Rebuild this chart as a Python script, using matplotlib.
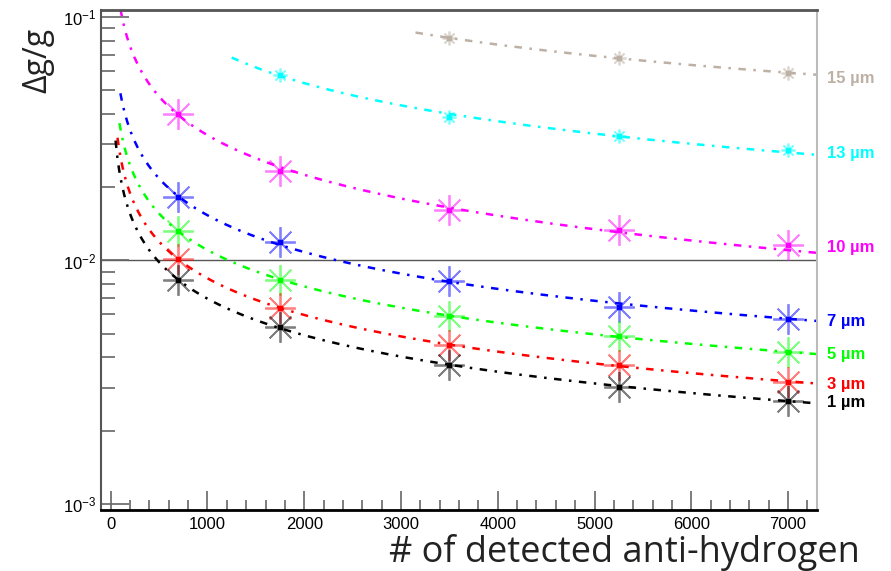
import matplotlib.pyplot as plt
import numpy as np

plt.rcParams["font.family"] = ["Liberation Sans", "DejaVu Sans"]
plt.rcParams["mathtext.fontset"] = "custom"
plt.rcParams["mathtext.rm"] = "Liberation Sans"
plt.rcParams["mathtext.it"] = "Liberation Sans"
plt.rcParams["mathtext.default"] = "regular"

# data
n_det = [700, 1750, 3500, 5250, 7000]
labels = ["15 \u00b5m", "13 \u00b5m", "10 \u00b5m", "7 \u00b5m", "5 \u00b5m", "3 \u00b5m", "1 \u00b5m"]
colors = ["#bdb0a4", "#00ffff", "#ff00ff", "#0000ff", "#00ff00", "#ff0000", "#000000"]
dg_15 = [None, None, 0.082, 0.068, 0.0589]
dg_13 = [None, 0.0578, 0.0389, 0.0324, 0.0284]
dg_10 = [0.040, 0.0233, 0.0161, 0.0133, 0.0116]
dg_7 = [0.0182, 0.0119, 0.00824, 0.00644, 0.00575]
dg_5 = [0.0132, 0.00832, 0.00592, 0.0049, 0.0042]
dg_3 = [0.0101, 0.00638, 0.0045, 0.00372, 0.00317]
dg_1 = [0.0083, 0.00533, 0.00372, 0.00302, 0.00265]
fit_start = [3150, 1250, 100, 100, 90, 70, 50]
label_y = [0.056, 0.0275, 0.0113, 0.0056, 0.0041, 0.0031, 0.0026]
marker_size = [10, 10, 22, 22, 22, 22, 22]

series = [dg_15, dg_13, dg_10, dg_7, dg_5, dg_3, dg_1]

fig = plt.figure(figsize=(8.91, 5.71), dpi=100)
ax = fig.add_axes([0.1134, 0.1068, 0.8036, 0.8757])

for vals, col, lab, x0, ly, ms in zip(series, colors, labels, fit_start, label_y, marker_size):
    x = np.array([n for n, v in zip(n_det, vals) if v is not None], float)
    y = np.array([v for v in vals if v is not None], float)
    # fit a + b/sqrt(N), like the fitted curves in the original
    A = np.vstack([np.ones_like(x), 1 / np.sqrt(x)]).T
    a, b = np.linalg.lstsq(A, y, rcond=None)[0]
    xf = np.linspace(x0, 7300, 400)
    ax.plot(xf, a + b / np.sqrt(xf), color=col, lw=1.8, ls=(0, (3, 3, 1, 3)), zorder=2)
    ax.plot(x, y, ls="none", marker=(8, 2, 0), ms=ms, mew=1.3, color=col, alpha=0.5, zorder=3)
    ax.plot(x, y, ls="none", marker="s", ms=2.5, color=col, zorder=4)
    ax.text(7400, ly, lab, color=col, fontsize=12, fontweight="bold", va="center", ha="left")

ax.axhline(0.01, color="#555555", lw=1, zorder=1)

ax.set_yscale("log")
ax.set_xlim(-100, 7300)
ax.set_ylim(10 ** -3.025, 10 ** -0.971)
ax.set_xticks(range(0, 8000, 1000))
ax.set_xticks(range(0, 7300, 200), minor=True)
ax.set_yticks([1e-3, 1e-2, 1e-1])
ax.set_yticklabels(["$10^{-3}$", "$10^{-2}$", "$10^{-1}$"])
ax.tick_params(which="both", direction="in", labelsize=12)
ax.tick_params(axis="x", pad=5)
ax.tick_params(which="major", length=14, width=1.2, color="#666666")
ax.tick_params(which="minor", length=7, width=1.2, color="#666666")
ax.tick_params(axis="y", which="major", length=20)
ax.tick_params(axis="y", which="minor", length=10)

ax.spines["top"].set_color("#555555")
ax.spines["top"].set_linewidth(2)
ax.spines["left"].set_color("#555555")
ax.spines["left"].set_linewidth(1.5)
ax.spines["bottom"].set_linewidth(2)
ax.spines["right"].set_color("#bbbbbb")
ax.spines["right"].set_linewidth(1.5)

fig.text(0.042, 0.895, "\u0394g/g", rotation=90, fontsize=23, ha="center", va="center",
         family="Open Sans", color="#222222")
fig.text(0.965, 0.016, "# of detected anti-hydrogen", fontsize=26, ha="right", va="baseline",
         family="Open Sans", color="#222222")

fig.savefig("out.png", dpi=100)
